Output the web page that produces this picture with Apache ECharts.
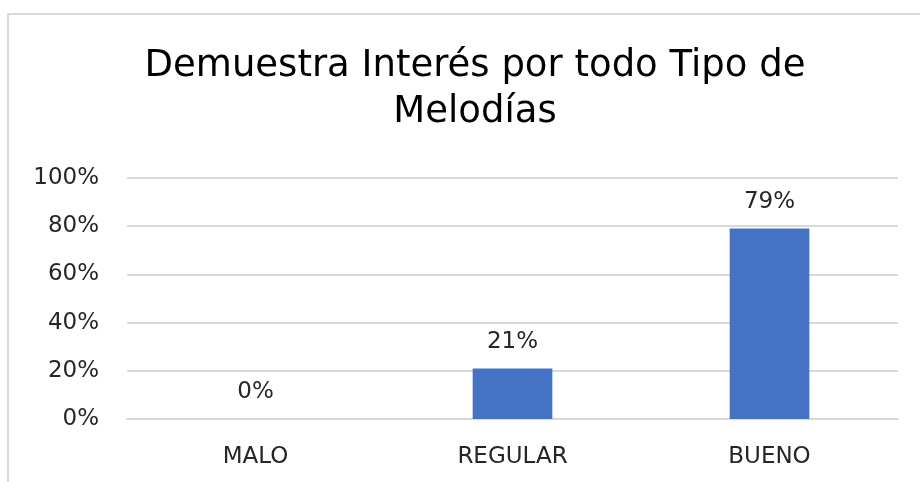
<!DOCTYPE html>
<html><head><meta charset="utf-8">
<script src="https://cdn.jsdelivr.net/npm/echarts@6/dist/echarts.min.js"></script>
<style>html,body{margin:0;padding:0;background:#fff}#c{width:920px;height:482px}</style>
</head><body><div id="c"></div>
<script>
const titleText = 'Demuestra Interés por todo Tipo de\nMelodías';
const categories = ['MALO', 'REGULAR', 'BUENO'];
const values = [0, 21, 79];
const yTicks = [0, 20, 40, 60, 80, 100];

const chart = echarts.init(document.getElementById('c'));
const FONT = '"DejaVu Sans", sans-serif';
const TXT = '#262626';
chart.setOption({
  animation: false,
  graphic: [{
    type: 'rect', shape: {x: 8, y: 14, width: 1000, height: 1000},
    style: {fill: 'none', stroke: '#d9d9d9', lineWidth: 2}, silent: true, z: -1
  }],
  title: {
    text: titleText, left: 470, top: 38, textAlign: 'center',
    textStyle: {fontFamily: FONT, fontSize: 37, fontWeight: 'normal', color: '#000', lineHeight: 46}
  },
  grid: {left: 127, right: 22, top: 178, bottom: 63},
  xAxis: {
    type: 'category', data: categories,
    axisLine: {show: true, lineStyle: {color: '#d9d9d9', width: 2}},
    axisTick: {show: false},
    axisLabel: {fontFamily: FONT, fontSize: 23, color: TXT, margin: 27}
  },
  yAxis: {
    type: 'value', min: yTicks[0], max: yTicks[yTicks.length - 1], interval: 20,
    axisLine: {show: false}, axisTick: {show: false},
    splitLine: {lineStyle: {color: '#d9d9d9', width: 2}},
    axisLabel: {fontFamily: FONT, fontSize: 23, color: TXT, margin: 28, formatter: v => v + '%'}
  },
  series: [{
    type: 'bar', data: values, barWidth: '31%',
    itemStyle: {color: '#4472C4'},
    label: {show: true, position: 'top', distance: 15, fontFamily: FONT, fontSize: 23, color: TXT, formatter: p => p.value + '%'}
  }]
});
</script></body></html>
